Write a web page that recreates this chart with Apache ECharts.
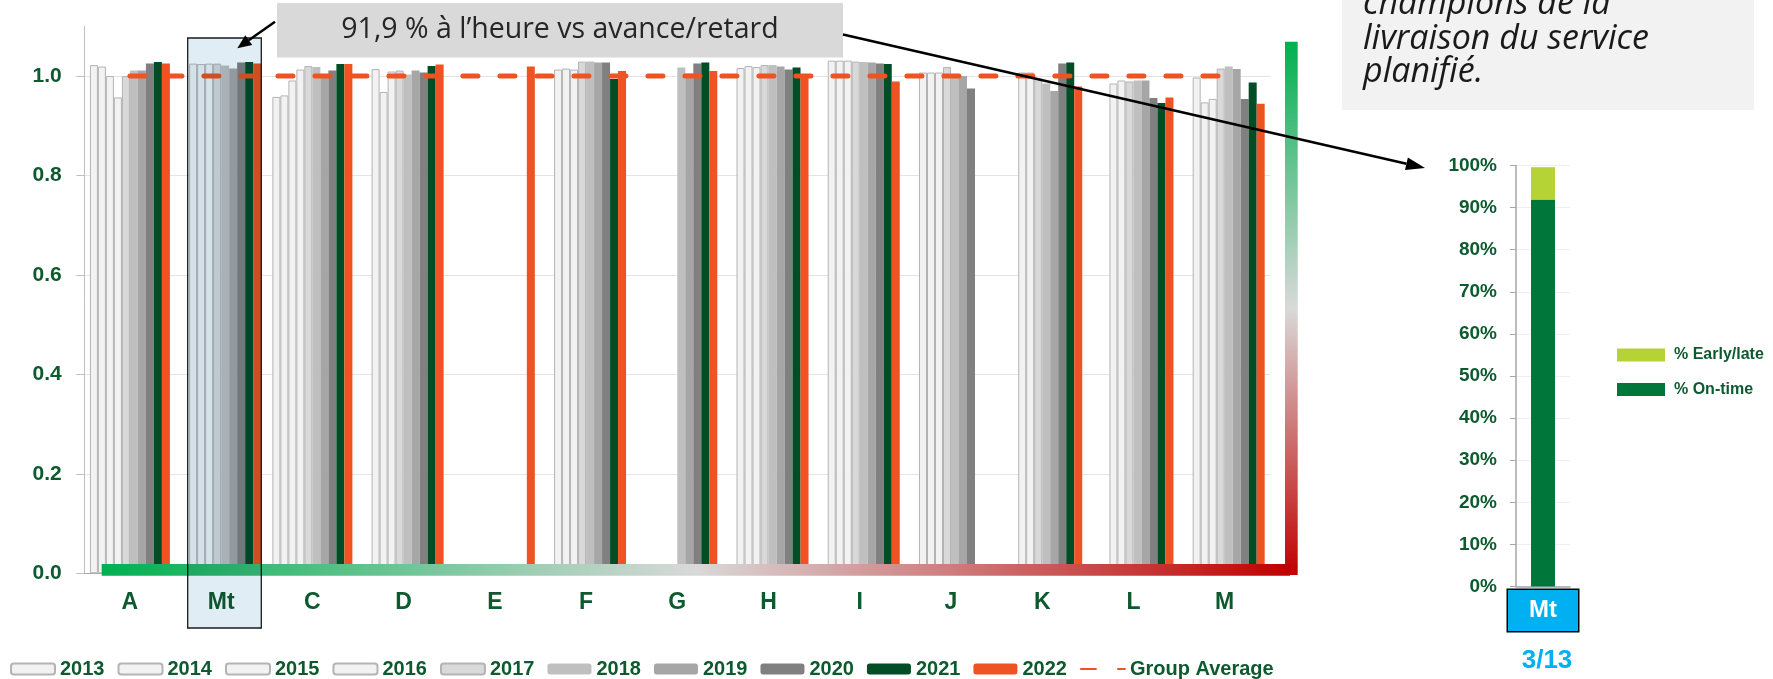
<!DOCTYPE html>
<html><head><meta charset="utf-8">
<script src="https://cdn.jsdelivr.net/npm/echarts@6/dist/echarts.min.js"></script>
<style>html,body{margin:0;padding:0;background:#fff;}#c{width:1773px;height:679px;}</style>
</head><body><div id="c"></div>
<script>
// ---- data ----
const categories = ['A','Mt','C','D','E','F','G','H','I','J','K','L','M'];
const years = ['2013','2014','2015','2016','2017','2018','2019','2020','2021','2022'];
const v2013 = [1.022, null, 0.958, null, null, null, null, null, null, null, null, null, null];
const v2014 = [1.019, 1.025, 0.961, 1.014, null, 1.013, null, 1.016, 1.031, 1.007, null, null, 0.997];
const v2015 = [1.000, 1.024, 0.991, 0.968, null, 1.015, null, 1.020, 1.031, 1.007, 1.007, 0.985, 0.947];
const v2016 = [0.957, 1.025, 1.013, 1.009, null, 1.013, null, 1.018, 1.031, 1.007, 1.007, 0.991, 0.954];
const v2017 = [1.000, 1.025, 1.020, 1.011, null, 1.029, null, 1.022, 1.029, 1.018, 0.995, 0.989, 1.015];
const v2018 = [1.011, 1.021, 1.018, 1.003, null, 1.029, 1.017, 1.022, 1.028, 1.000, 0.985, 0.991, 1.019];
const v2019 = [1.011, 1.015, 1.004, 1.011, null, 1.027, 1.005, 1.019, 1.027, 1.000, 0.970, 0.991, 1.014];
const v2020 = [1.025, 1.027, 1.011, 1.007, null, 1.027, 1.025, 1.013, 1.025, 0.975, 1.025, 0.956, 0.954];
const v2021 = [1.028, 1.028, 1.024, 1.020, null, 0.994, 1.027, 1.017, 1.024, null, 1.027, 0.946, 0.987];
const v2022 = [1.025, 1.025, 1.024, 1.023, 1.019, 1.010, 1.010, 0.996, 0.989, null, 0.979, 0.957, 0.944];
const groupAverage = [1, 1, 1, 1, 1, 1, 1, 1, 1, 1, 1, 1, 1];
const yTicks = [0, 0.2, 0.4, 0.6, 0.8, 1.0];

const focusCategory = ['Mt'];
const onTime = [0.919];
const earlyLate = [0.077];
const rankText = '3/13';
const titleText = '91,9 % à l’heure vs avance/retard';
const noteLines = ['champions de la', 'livraison du service', 'planifié.'];

// ---- styles ----
const GREEN_TXT = '#0d5a2f';
const yearValues = [v2013, v2014, v2015, v2016, v2017, v2018, v2019, v2020, v2021, v2022];
const yearColors = ['#f2f2f2','#f2f2f2','#f2f2f2','#f2f2f2','#d9d9d9','#bfbfbf','#a6a6a6','#808080','#004d26','#f05323'];
const FONT = '"Liberation Sans", Arial, sans-serif';

const series = years.map((y, i) => ({
  name: y, type: 'bar', xAxisIndex: 0, yAxisIndex: 0,
  barWidth: 8, barGap: '0%',
  data: yearValues[i],
  itemStyle: i < 5 ? {color: yearColors[i], borderColor: '#b4b4b4', borderWidth: 1}
                   : {color: yearColors[i]},
  z: 2
}));
series.push({
  name: 'Group Average', type: 'line', xAxisIndex: 0, yAxisIndex: 0,
  data: groupAverage, symbol: 'none', z: 5,
  lineStyle: {color: '#f05323', width: 5, type: [15, 22], cap: 'round'},
  itemStyle: {color: '#f05323'}
});
series.push({
  name: '% On-time', type: 'bar', stack: 'mt', xAxisIndex: 1, yAxisIndex: 1,
  barWidth: 24, data: onTime, itemStyle: {color: '#00763b'}
});
series.push({
  name: '% Early/late', type: 'bar', stack: 'mt', xAxisIndex: 1, yAxisIndex: 1,
  barWidth: 24, data: earlyLate, itemStyle: {color: '#b5d335'}
});

const gradStops = [{offset: 0, color: '#00b050'}, {offset: 0.5, color: '#d9d9d9'}, {offset: 1, color: '#c00000'}];
const legendMain = years.map(y => ({name: y})).concat([{name: 'Group Average', itemStyle: {opacity: 0}}]);

const option = {
  animation: false,
  backgroundColor: '#ffffff',
  grid: [
    {left: 84.3, top: 26.3, width: 1186, height: 547},
    {left: 1516, top: 165.5, width: 54, height: 421}
  ],
  xAxis: [
    {type: 'category', gridIndex: 0, data: categories,
     axisLine: {lineStyle: {color: '#a6a6a6', width: 1}},
     axisTick: {length: 7, lineStyle: {color: '#a6a6a6'}},
     axisLabel: {margin: 18, fontSize: 23, fontWeight: 'bold', color: GREEN_TXT, fontFamily: FONT}},
    {type: 'category', gridIndex: 1, data: focusCategory,
     axisLine: {lineStyle: {color: '#a6a6a6', width: 1.5}},
     axisTick: {show: false},
     axisLabel: {margin: 3.5, fontSize: 24, fontWeight: 'bold', color: '#ffffff', fontFamily: FONT,
       backgroundColor: '#00b0f0', borderColor: '#000000', borderWidth: 1.5,
       width: 70, align: 'center', lineHeight: 25, padding: [8, 0, 8, 0]}}
  ],
  yAxis: [
    {type: 'value', gridIndex: 0, min: 0, max: 1.1, interval: 0.2,
     axisLine: {show: true, lineStyle: {color: '#bfbfbf', width: 1}},
     axisTick: {show: true, length: 8, lineStyle: {color: '#bfbfbf'}},
     axisLabel: {margin: 22.6, fontSize: 21, fontWeight: 'bold', color: GREEN_TXT, fontFamily: FONT,
       showMaxLabel: false, formatter: v => yTicks.indexOf(v) >= 0 ? v.toFixed(1) : ''},
     splitLine: {show: true, showMaxLine: false, lineStyle: {color: '#e4e4e4', width: 1}}},
    {type: 'value', gridIndex: 1, min: 0, max: 1, interval: 0.1,
     axisLine: {show: true, lineStyle: {color: '#a6a6a6', width: 1.5}},
     axisTick: {show: true, length: 6, lineStyle: {color: '#a6a6a6'}},
     axisLabel: {margin: 19, fontSize: 19, fontWeight: 'bold', color: GREEN_TXT, fontFamily: FONT,
       formatter: v => Math.round(v * 100) + '%'},
     splitLine: {show: true, lineStyle: {color: '#efefef', width: 1}}}
  ],
  legend: [
    {data: legendMain, left: 10, top: 659, orient: 'horizontal',
     itemWidth: 44, itemHeight: 11, itemGap: 13, selectedMode: false, padding: 0,
     textStyle: {fontSize: 20, fontWeight: 'bold', color: GREEN_TXT, fontFamily: FONT, lineHeight: 20}},
    {data: ['% Early/late', '% On-time'], left: 1617, top: 347, orient: 'vertical',
     itemWidth: 48, itemHeight: 13, itemGap: 18.5, selectedMode: false, padding: 0, icon: 'rect',
     textStyle: {fontSize: 16, fontWeight: 'bold', color: GREEN_TXT, fontFamily: FONT, lineHeight: 13, padding: [0, 0, 0, 4]}}
  ],
  graphic: [
    {type: 'rect', z: 50, shape: {x: 101.7, y: 564, width: 1188.3, height: 11.7},
     style: {fill: {type: 'linear', x: 0, y: 0, x2: 1, y2: 0, colorStops: gradStops}}},
    {type: 'rect', z: 49, shape: {x: 1285, y: 41.7, width: 12.7, height: 533.3},
     style: {fill: {type: 'linear', x: 0, y: 0, x2: 0, y2: 1, colorStops: gradStops}}},
    {type: 'rect', z: 60, shape: {x: 277, y: 3, width: 566, height: 54.5}, style: {fill: '#d9d9d9'}},
    {type: 'text', z: 61, x: 560, y: 30,
     style: {text: titleText, font: '28.5px "Open Sans", sans-serif', fill: '#262626', align: 'center', verticalAlign: 'middle'}},
    {type: 'line', z: 61, shape: {x1: 275, y1: 21.7, x2: 248.7, y2: 40.2}, style: {stroke: '#000', lineWidth: 2.5}},
    {type: 'polygon', z: 61, shape: {points: [[237.3, 48.2], [252.2, 45.1], [245.3, 35.2]]}, style: {fill: '#000'}},
    {type: 'line', z: 61, shape: {x1: 843, y1: 34.5, x2: 1406.5, y2: 163.7}, style: {stroke: '#000', lineWidth: 2.5}},
    {type: 'polygon', z: 61, shape: {points: [[1425, 168], [1405, 170.1], [1407.9, 157.4]]}, style: {fill: '#000'}},
    {type: 'rect', z: 60, shape: {x: 1342, y: 0, width: 412, height: 110}, style: {fill: '#f2f2f2'}},
    {type: 'text', z: 61, x: 1363, y: 4.5,
     style: {text: noteLines[0], font: 'italic 34px "Open Sans", sans-serif', fill: '#1a1a1a', align: 'left', verticalAlign: 'middle'}},
    {type: 'text', z: 61, x: 1363, y: 39.5,
     style: {text: noteLines[1], font: 'italic 34px "Open Sans", sans-serif', fill: '#1a1a1a', align: 'left', verticalAlign: 'middle'}},
    {type: 'text', z: 61, x: 1363, y: 72,
     style: {text: noteLines[2], font: 'italic 34px "Open Sans", sans-serif', fill: '#1a1a1a', align: 'left', verticalAlign: 'middle'}},
    {type: 'text', z: 61, x: 1547, y: 660.5,
     style: {text: rankText, font: 'bold 26px "Liberation Sans", Arial, sans-serif', fill: '#00b0f0', align: 'center', verticalAlign: 'middle'}},
    {type: 'rect', z: 100, shape: {x: 187.7, y: 38, width: 73.6, height: 590},
     style: {fill: '#e1edf5', stroke: '#1a1a1a', lineWidth: 1.3, blend: 'multiply'}}
  ],
  series: series
};
const chart = echarts.init(document.getElementById('c'), null, {renderer: 'canvas'});
chart.setOption(option);
</script></body></html>
